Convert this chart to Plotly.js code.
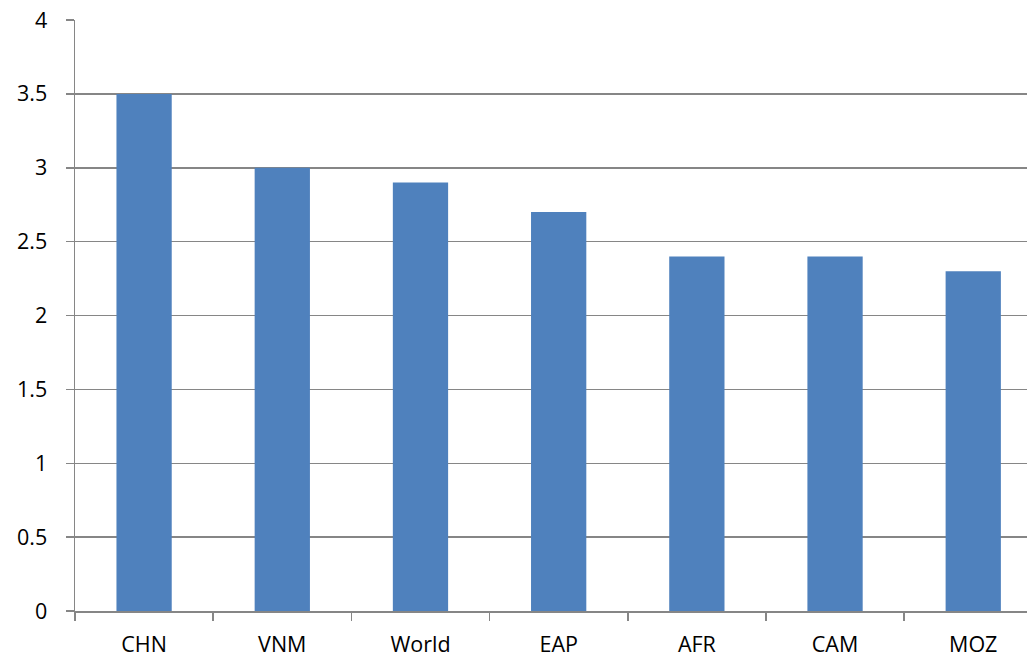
<!DOCTYPE html>
<html>
<head>
<meta charset="utf-8">
<script src="https://cdn.plot.ly/plotly-3.0.1.min.js"></script>
<style>html,body{margin:0;padding:0;background:#fff;}#chart{width:1027px;height:658px;}</style>
</head>
<body>
<div id="chart"></div>
<script>
const categories = ["CHN", "VNM", "World", "EAP", "AFR", "CAM", "MOZ"];
const values = [3.5, 3.0, 2.9, 2.7, 2.4, 2.4, 2.3];
const yTickVals = [0, 0.5, 1, 1.5, 2, 2.5, 3, 3.5, 4];
const yTickText = ["0", "0.5", "1", "1.5", "2", "2.5", "3", "3.5", "4"];

const axisColor = "#868686";
const trace = {
  type: "bar",
  x: categories,
  y: values,
  width: 0.4,
  marker: {color: "#4F81BD"},
  hoverinfo: "x+y"
};
const layout = {
  width: 1027,
  height: 658,
  margin: {l: 75, r: 0, t: 20, b: 47, pad: 0},
  paper_bgcolor: "#ffffff",
  plot_bgcolor: "#ffffff",
  showlegend: false,
  font: {family: "Open Sans, Liberation Sans, sans-serif", size: 21.5, color: "#000000"},
  xaxis: {
    type: "category",
    range: [-0.5, 6.389],
    tickson: "boundaries",
    ticks: "outside",
    ticklen: 8,
    tickwidth: 1.5,
    tickcolor: axisColor,
    showline: true,
    linecolor: axisColor,
    linewidth: 1.5,
    showgrid: false,
    zeroline: false,
    ticklabelstandoff: 14
  },
  yaxis: {
    range: [0, 4],
    tickvals: yTickVals,
    ticktext: yTickText,
    ticks: "outside",
    ticklen: 8,
    tickwidth: 1.5,
    tickcolor: axisColor,
    showline: true,
    linecolor: axisColor,
    linewidth: 1.5,
    showgrid: true,
    gridcolor: axisColor,
    gridwidth: 1.5,
    zeroline: false,
    ticklabelstandoff: 14
  }
};
Plotly.newPlot("chart", [trace], layout, {displayModeBar: false, staticPlot: true});
</script>
</body>
</html>
